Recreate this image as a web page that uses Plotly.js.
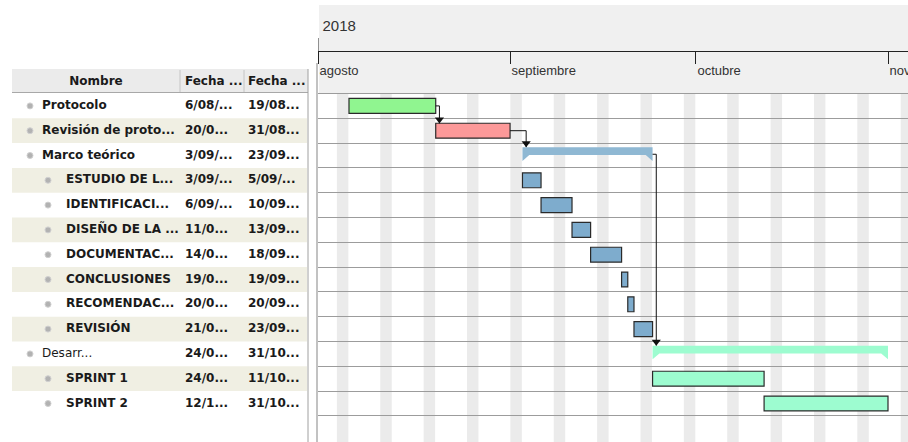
<!DOCTYPE html>
<html>
<head>
<meta charset="utf-8">
<script src="https://cdn.plot.ly/plotly-3.0.1.min.js"></script>
<style>html,body{margin:0;padding:0;background:#fff;}#chart{width:908px;height:442px;}</style>
</head>
<body>
<div id="chart"></div>
<script>
// ---------------- data ----------------
const taskNames = ['Protocolo','Revisión de proto...','Marco teórico','ESTUDIO DE L...','IDENTIFICACI...','DISEÑO DE LA ...','DOCUMENTAC...','CONCLUSIONES','RECOMENDAC...','REVISIÓN','Desarr...','SPRINT 1','SPRINT 2'];
const startLabels = ['6/08/...','20/0...','3/09/...','3/09/...','6/09/...','11/0...','14/0...','19/0...','20/0...','21/0...','24/0...','24/0...','12/1...'];
const endLabels = ['19/08...','31/08...','23/09...','5/09/...','10/09...','13/09...','18/09...','19/09...','20/09...','23/09...','31/10...','11/10...','31/10...'];
const startDates = ['2018-08-06','2018-08-20','2018-09-03','2018-09-03','2018-09-06','2018-09-11','2018-09-14','2018-09-19','2018-09-20','2018-09-21','2018-09-24','2018-09-24','2018-10-12'];
const endDates = ['2018-08-19','2018-08-31','2018-09-23','2018-09-05','2018-09-10','2018-09-13','2018-09-18','2018-09-19','2018-09-20','2018-09-23','2018-10-31','2018-10-11','2018-10-31'];
const levels = [0,0,0,1,1,1,1,1,1,1,0,1,1];
const isSummary = [false,false,true,false,false,false,false,false,false,false,true,false,false];
const boldName = [true,true,true,true,true,true,true,true,true,true,false,true,true];
const taskColors = ['#90f590','#fc9999','#8fb8d3','#7eaccd','#7eaccd','#7eaccd','#7eaccd','#7eaccd','#7eaccd','#7eaccd','#9dfcd0','#9dfcd0','#9dfcd0'];
const dependencies = [[0,1],[1,2],[2,10]];
const headerLabels = ['Nombre','Fecha ...','Fecha ...'];
const yearLabel = '2018';
const monthDates = ['2018-08-01','2018-09-01','2018-10-01','2018-11-01'];
const monthLabels = ['agosto','septiembre','octubre','noviembre'];

// ---------------- helpers ----------------
const DAY = 86400000;
const ms = s => Date.parse(s + 'T00:00:00Z');
const ds = v => new Date(v).toISOString().replace('T',' ').replace('Z','');
const H = 442, W = 908;
const ROW0 = 105.9, PITCH = 24.8;
const pxToRow = p => (p - ROW0) / PITCH;
const yRange = [pxToRow(H), pxToRow(0)];
const GX0 = 318;
const pxPerDay = (888 - 318) / 92;
const xStart = ms('2018-08-01');
const xEnd = xStart + (W - GX0) / pxPerDay * DAY;
const rows = taskNames.map((_, i) => i);
const pxShift = p => p / pxPerDay * DAY;

const traces = [];

// bars (regular tasks)
const bi = rows.filter(i => !isSummary[i]);
traces.push({
  type: 'bar', orientation: 'h', xaxis: 'x', yaxis: 'y',
  y: bi, base: bi.map(i => startDates[i]),
  x: bi.map(i => ms(endDates[i]) + DAY - ms(startDates[i])),
  width: 0.6,
  marker: {color: bi.map(i => taskColors[i]), line: {color: '#2a2a2a', width: 1.2}},
  hoverinfo: 'skip'
});

// summary brackets
rows.filter(i => isSummary[i]).forEach(i => {
  const s = ms(startDates[i]), e = ms(endDates[i]) + DAY, d = 1.1 * DAY;
  traces.push({
    type: 'scatter', mode: 'lines', xaxis: 'x', yaxis: 'y',
    x: [s, e, e, e - d, s + d, s, s].map(ds),
    y: [i - 0.33, i - 0.33, i + 0.22, i - 0.02, i - 0.02, i + 0.22, i - 0.33],
    fill: 'toself', fillcolor: taskColors[i], line: {width: 0, color: taskColors[i]},
    hoverinfo: 'skip'
  });
});

// dependencies
const depX = [], depY = [], arrX = [], arrY = [];
dependencies.forEach(([p, q]) => {
  const pe = ms(endDates[p]) + DAY, qs = ms(startDates[q]);
  const xv = Math.max(pe, qs) + 0.6 * DAY;
  const py = isSummary[p] ? p - 0.05 : p;
  const tip = isSummary[q] ? q - 0.34 : q - 0.3;
  depX.push(ds(pe), ds(xv), ds(xv), null);
  depY.push(py, py, tip, null);
  arrX.push(ds(xv)); arrY.push(tip - 0.15);
});
traces.push({type: 'scatter', mode: 'lines', xaxis: 'x', yaxis: 'y', x: depX, y: depY,
  line: {color: '#111', width: 1}, hoverinfo: 'skip'});
traces.push({type: 'scatter', mode: 'markers', xaxis: 'x', yaxis: 'y', x: arrX, y: arrY,
  marker: {symbol: 'triangle-down', size: 8, color: '#111'}, hoverinfo: 'skip'});

// timeline labels
traces.push({type: 'scatter', mode: 'text', xaxis: 'x', yaxis: 'y',
  x: monthDates.map(d => ds(ms(d) + pxShift(1.5))), y: monthDates.map(() => pxToRow(72)), text: monthLabels,
  textposition: 'middle right', cliponaxis: true,
  textfont: {family: 'Liberation Sans, Arial, sans-serif', size: 13, color: '#333'}, hoverinfo: 'skip'});
traces.push({type: 'scatter', mode: 'text', xaxis: 'x', yaxis: 'y',
  x: [ds(ms(monthDates[0]) + pxShift(4.5))], y: [pxToRow(27)], text: [yearLabel],
  textposition: 'middle right',
  textfont: {family: 'Liberation Sans, Arial, sans-serif', size: 15, color: '#333'}, hoverinfo: 'skip'});

// table: bullets
traces.push({type: 'scatter', mode: 'markers', xaxis: 'x2', yaxis: 'y2',
  x: rows.map(i => levels[i] ? 48 : 30), y: rows,
  marker: {size: 6, color: '#b2b2b2', line: {color: '#d0d0d0', width: 1}}, hoverinfo: 'skip'});
const tfont = {family: 'DejaVu Sans, sans-serif', size: 12, color: '#1a1a1a'};
traces.push({type: 'scatter', mode: 'text', xaxis: 'x2', yaxis: 'y2',
  x: rows.map(i => levels[i] ? 66 : 42), y: rows,
  text: rows.map(i => boldName[i] ? '<b>' + taskNames[i] + '</b>' : taskNames[i]),
  textposition: 'middle right', textfont: tfont, hoverinfo: 'skip', cliponaxis: false});
traces.push({type: 'scatter', mode: 'text', xaxis: 'x2', yaxis: 'y2',
  x: rows.map(() => 185), y: rows, text: startLabels.map(t => '<b>' + t + '</b>'),
  textposition: 'middle right', textfont: tfont, hoverinfo: 'skip', cliponaxis: false});
traces.push({type: 'scatter', mode: 'text', xaxis: 'x2', yaxis: 'y2',
  x: rows.map(() => 248), y: rows, text: endLabels.map(t => '<b>' + t + '</b>'),
  textposition: 'middle right', textfont: tfont, hoverinfo: 'skip', cliponaxis: false});
traces.push({type: 'scatter', mode: 'text', xaxis: 'x2', yaxis: 'y2',
  x: [96, 185, 248], y: headerLabels.map(() => pxToRow(81.5)),
  text: headerLabels.map(t => '<b>' + t + '</b>'),
  textposition: ['middle center', 'middle right', 'middle right'], textfont: tfont, hoverinfo: 'skip', cliponaxis: false});

// ---------------- shapes ----------------
const shapes = [];
const py = p => 1 - p / H;
// header gray background
shapes.push({type: 'rect', xref: 'paper', yref: 'paper', x0: 319 / W, x1: 1, y0: py(93), y1: py(5),
  fillcolor: '#f0f0f0', line: {width: 0}, layer: 'below'});
// weekends
for (let t = ms('2018-08-04'); t < xEnd; t += 7 * DAY) {
  shapes.push({type: 'rect', xref: 'x', yref: 'y', x0: ds(t + 0.05 * DAY), x1: ds(t + 1.9 * DAY),
    y0: -0.5, y1: yRange[0], fillcolor: '#ebebeb', line: {width: 0}, layer: 'below'});
}
// year tick
shapes.push({type: 'line', xref: 'x', yref: 'paper', x0: monthDates[0], x1: monthDates[0], y0: py(51), y1: py(38),
  line: {color: '#222', width: 1}});
// table header
shapes.push({type: 'rect', xref: 'x2', yref: 'paper', x0: 12, x1: 308, y0: py(92.5), y1: py(69),
  fillcolor: '#ebebeb', line: {width: 0}, layer: 'below'});
shapes.push({type: 'line', xref: 'x2', yref: 'paper', x0: 12, x1: 308, y0: py(92.5), y1: py(92.5),
  line: {color: '#a8a8a8', width: 1}});
[180, 244].forEach(x => shapes.push({type: 'line', xref: 'x2', yref: 'paper', x0: x, x1: x, y0: py(92), y1: py(70),
  line: {color: '#c4c4c4', width: 1}}));
// alternating rows
rows.filter(i => i % 2 === 1).forEach(i => shapes.push({type: 'rect', xref: 'x2', yref: 'y2', x0: 12, x1: 307,
  y0: i - 0.5, y1: i + 0.5, fillcolor: '#f0efe3', line: {width: 0}, layer: 'below'}));
// borders
shapes.push({type: 'line', xref: 'paper', yref: 'paper', x0: 308 / W, x1: 308 / W, y0: 0, y1: py(69),
  line: {color: '#a0a0a0', width: 1}});
shapes.push({type: 'line', xref: 'paper', yref: 'paper', x0: 317 / W, x1: 317 / W, y0: 0, y1: py(63),
  line: {color: '#c2c2c2', width: 2}});

const layout = {
  width: W, height: H, margin: {l: 0, r: 0, t: 0, b: 0},
  paper_bgcolor: '#ffffff', plot_bgcolor: 'rgba(0,0,0,0)', showlegend: false,
  xaxis: {type: 'date', domain: [GX0 / W, 1], range: [ds(xStart), ds(xEnd)], anchor: 'free', position: py(50.7),
    showline: true, linecolor: '#222', linewidth: 1, ticks: 'outside', ticklen: 12, tickcolor: '#222', tickwidth: 1,
    tickmode: 'array', tickvals: monthDates, showticklabels: false, showgrid: false, zeroline: false, fixedrange: true},
  yaxis: {domain: [0, 1], range: yRange, tickmode: 'array', tickvals: rows.map(i => i + 0.5).concat([-0.5]),
    showgrid: true, gridcolor: '#9c9c9c', gridwidth: 1, showticklabels: false, ticks: '', zeroline: false,
    showline: false, anchor: 'x', fixedrange: true},
  xaxis2: {domain: [0, GX0 / W], range: [0, GX0], visible: false, anchor: 'y2', fixedrange: true},
  yaxis2: {domain: [0, 1], range: yRange, visible: false, anchor: 'x2', fixedrange: true},
  shapes: shapes,
  bargap: 0
};
Plotly.newPlot('chart', traces, layout, {displayModeBar: false, staticPlot: true});
</script>
</body>
</html>
